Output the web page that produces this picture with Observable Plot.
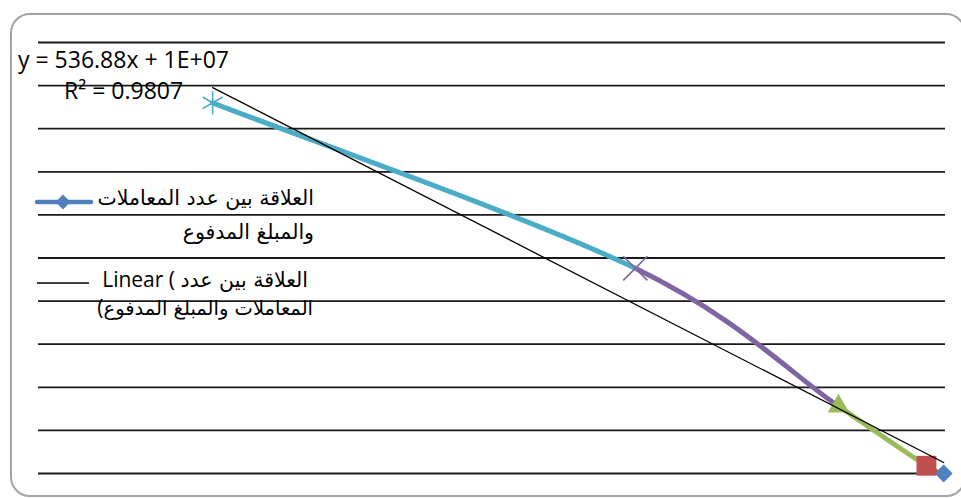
<!DOCTYPE html>
<html>
<head>
<meta charset="utf-8">
<script src="https://cdn.jsdelivr.net/npm/d3@7"></script>
<script src="https://cdn.jsdelivr.net/npm/@observablehq/plot@0.6"></script>
<style>
  html, body { margin: 0; padding: 0; background: #ffffff; overflow: hidden; }
  #wrap { position: relative; width: 961px; height: 498px; overflow: hidden; background: #fff; }
  #frame { position: absolute; left: 10px; top: 13px; width: 956px; height: 484px;
           border: 2px solid #a3a3a3; border-radius: 20px; box-sizing: border-box; }
  #chart { position: absolute; left: 0; top: 0; }
  .txt { position: absolute; white-space: nowrap; color: #000; font-family: "Open Sans", "DejaVu Sans", sans-serif; }
  .eq { font-size: 23px; line-height: 1; }
  .leg { font-size: 21px; line-height: 1; text-align: right; }
  .ar { font-family: "DejaVu Sans", sans-serif; font-size: 20.5px; line-height: 1; }
  .sw { position: absolute; }
</style>
</head>
<body>
<div id="wrap">
  <div id="frame"></div>
  <div id="chart"></div>
</div>
<script>
// ---- data ----
const transactions = [9980, 9790, 8820, 6580, 1920];          // x values, in series order
const amounts = [15500000, 15410000, 14720000, 13120000, 11200000]; // y values
const gridValues = [10500000, 11000000, 11500000, 12000000, 12500000, 13000000,
                    13500000, 14000000, 14500000, 15000000, 15500000];
const seriesName = "العلاقة بين عدد المعاملات والمبلغ المدفوع";
const equationText = "y = 536.88x + 1E+07";
const r2Text = "R² = 0.9807";

// ---- styles (per point, Excel "vary colours by point") ----
const pointColors = ["#4F81BD", "#C0504D", "#9BBB59", "#8064A2", "#4BACC6"];
const pointSymbols = ["square", "square", "triangle", "times", "asterisk"];
const pointRotate = [45, 0, 0, 0, 0];
const pointR = [7.2, 11.2, 8, 11, 11];
const pointFilled = [true, true, true, false, false];

const points = transactions.map((x, i) => ({x, y: amounts[i], i}));

// custom curve: draws only the middle Bezier segment of a 4-point Catmull-Rom window
function middleSegment(context) {
  let pts;
  return {
    areaStart() {}, areaEnd() {},
    lineStart() { pts = []; },
    point(x, y) { pts.push([+x, +y]); },
    lineEnd() {
      const [p0, p1, p2, p3] = pts;
      context.moveTo(p1[0], p1[1]);
      context.bezierCurveTo(
        p1[0] + (p2[0] - p0[0]) / 6, p1[1] + (p2[1] - p0[1]) / 6,
        p2[0] - (p3[0] - p1[0]) / 6, p2[1] - (p3[1] - p1[1]) / 6,
        p2[0], p2[1]);
    }
  };
}

const segmentMarks = [];
for (let i = 0; i < points.length - 1; i++) {
  const win = [points[Math.max(0, i - 1)], points[i], points[i + 1], points[Math.min(points.length - 1, i + 2)]];
  segmentMarks.push(Plot.line(win, {
    x: "x", y: "y", curve: middleSegment,
    stroke: pointColors[i + 1], strokeWidth: 5, strokeLinecap: "round", strokeLinejoin: "round"
  }));
}

const dotMarks = points.map((p, i) => Plot.dot([p], {
  x: "x", y: "y", symbol: pointSymbols[i], r: pointR[i], rotate: pointRotate[i],
  fill: pointFilled[i] ? pointColors[i] : "none",
  stroke: pointFilled[i] ? "none" : pointColors[i],
  strokeWidth: pointFilled[i] ? 0 : 1.6
}));

const chart = Plot.plot({
  width: 961, height: 498,
  marginLeft: 38, marginRight: 16, marginTop: 42, marginBottom: 25,
  style: { background: "transparent", overflow: "visible" },
  x: { domain: [0, 10000], axis: null },
  y: { domain: [10500000, 15500000], reverse: true, axis: null },
  marks: [
    Plot.ruleY(gridValues, { stroke: "#1a1a1a", strokeWidth: 1.8 }),
    ...segmentMarks,
    ...dotMarks,
    Plot.linearRegressionY(points, { x: "x", y: "y", ci: 0, stroke: "#000", strokeWidth: 1.3 })
  ]
});
document.getElementById("chart").appendChild(chart);

// ---- text overlays: trendline label and legend ----
const wrap = document.getElementById("wrap");
function addText(html, cls, css) {
  const d = document.createElement("div");
  d.className = "txt " + cls;
  d.innerHTML = html;
  Object.assign(d.style, css);
  wrap.appendChild(d);
  return d;
}
addText(equationText, "eq", { left: "18px", top: "48px" });
addText(r2Text, "eq", { left: "64px", top: "79px" });

const words = seriesName.split(" ");
const l1a = words.slice(0, 4).join(" ");   // العلاقة بين عدد المعاملات
const l1b = words.slice(4).join(" ");      // والمبلغ المدفوع
const l2a = words.slice(0, 3).join(" ");   // العلاقة بين عدد
const l2b = words.slice(3).join(" ");      // المعاملات والمبلغ المدفوع

addText(`<span class="ar">${l1a}</span>`, "leg", { right: (961 - 314) + "px", top: "187px" });
addText(`<span class="ar">${l1b}</span>`, "leg", { right: (961 - 314) + "px", top: "221px" });
addText(`<span dir="ltr">Linear ( <span class="ar">${l2a}</span></span>`, "leg", { right: (961 - 308) + "px", top: "269px" });
addText(`<span dir="ltr">(<span class="ar" style="font-size:19.5px">${l2b}</span></span>`, "leg", { right: (961 - 313) + "px", top: "297px" });

// legend swatches
const ns = "http://www.w3.org/2000/svg";
function swatch(top, withMarker, color, width) {
  const s = document.createElementNS(ns, "svg");
  s.setAttribute("class", "sw");
  s.setAttribute("width", 64); s.setAttribute("height", 20);
  s.style.left = "32px"; s.style.top = (top - 10) + "px";
  const ln = document.createElementNS(ns, "line");
  ln.setAttribute("x1", 5); ln.setAttribute("x2", withMarker ? 59 : 57);
  ln.setAttribute("y1", 10); ln.setAttribute("y2", 10);
  ln.setAttribute("stroke", color); ln.setAttribute("stroke-width", width);
  ln.setAttribute("stroke-linecap", withMarker ? "round" : "butt");
  s.appendChild(ln);
  if (withMarker) {
    const p = document.createElementNS(ns, "path");
    p.setAttribute("d", "M31,2.5L38.5,10L31,17.5L23.5,10Z");
    p.setAttribute("fill", color);
    s.appendChild(p);
  }
  wrap.appendChild(s);
}
swatch(202, true, pointColors[0], 4.5);
swatch(283, false, "#000", 1.3);
</script>
</body>
</html>
